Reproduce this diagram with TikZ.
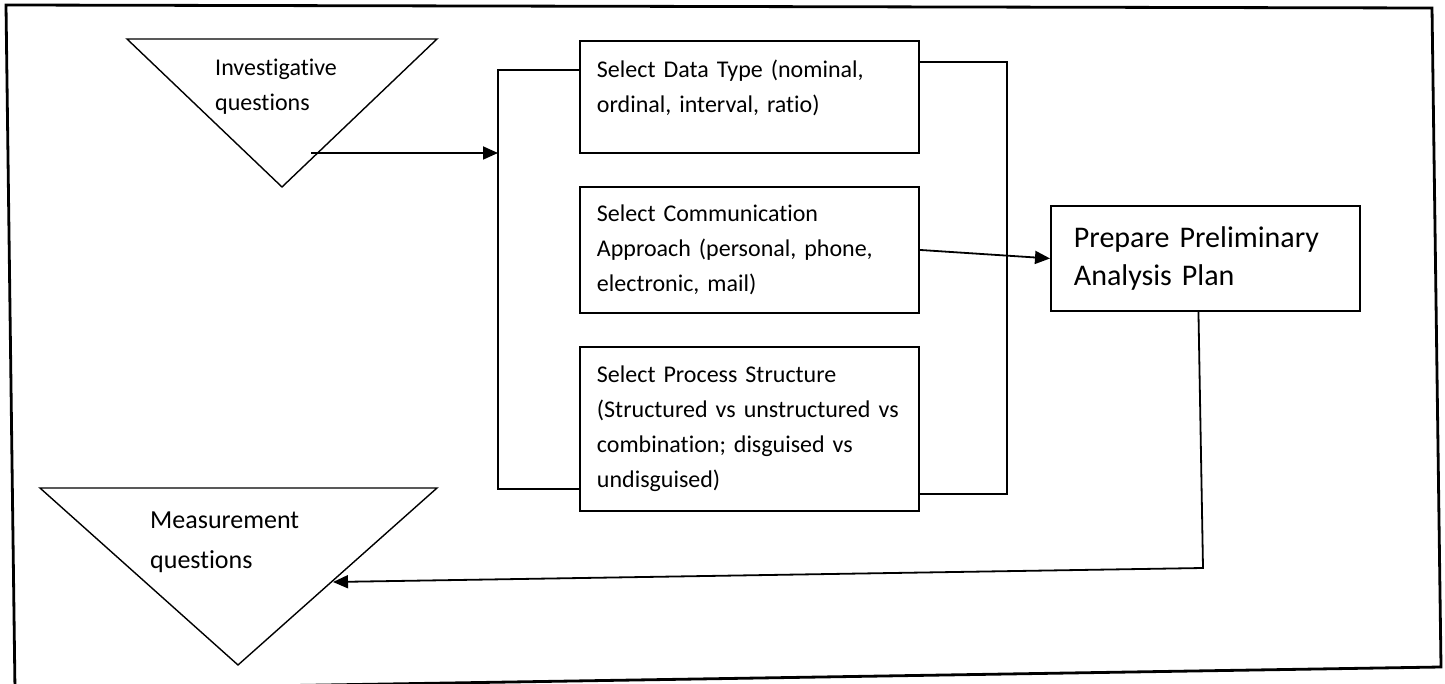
\documentclass[tikz,border=0pt]{standalone}
\usepackage{fontspec}
\setmainfont{Carlito}[Ligatures=NoCommon]
\usetikzlibrary{arrows.meta,positioning,calc}
\tikzset{
  font={\fontsize{24pt}{35pt}\selectfont}}

\begin{document}
\begin{tikzpicture}[x=1pt,y=-1pt,
    block_select/.style ={rectangle, draw=black, line width=1.9pt, fill=white,
      text width=305pt, align=left, inner xsep=17pt, inner ysep=0pt,
      minimum width=339pt, anchor=north west},
    block_plan/.style ={rectangle, draw=black, line width=1.9pt, fill=white,
      text width=263pt, align=left, inner xsep=23pt, inner ysep=0pt,
      minimum width=309pt, anchor=north west,
      font={\fontsize{30pt}{38pt}\selectfont}},
    tri_text/.style ={align=left, anchor=north west, inner sep=0pt},
    lines/.style ={draw=black, line width=1.8pt},
    paths2/.style={draw=black, line width=1.8pt,
      arrows={-Triangle[length=15pt, width=13pt]}}]
    \useasboundingbox (0,0) rectangle (1445,684);
    % outer frame (slightly tilted)
    \draw[line width=2.8pt] (6,5) -- (1432,8) -- (1441,667) -- (15,690) -- cycle;
    % question triangles
    \coordinate (inv-l) at (127,39);
    \coordinate (inv-r) at (437,39);
    \coordinate (inv-b) at (282,187);
    \draw[lines, line width=1.4pt] (inv-l) -- (inv-r) -- (inv-b) -- cycle;
    \node[tri_text] (inv) at (215,59) {Investigative\\questions};
    \coordinate (mea-l) at (40,488);
    \coordinate (mea-r) at (437,488);
    \coordinate (mea-b) at (238,665);
    \draw[lines, line width=1.4pt] (mea-l) -- (mea-r) -- (mea-b) -- cycle;
    \node[tri_text, font={\fontsize{26pt}{40pt}\selectfont}] (mea) at (150,512)
      {Measurement\\questions};
    % select boxes
    \node[block_select, minimum height=112pt] (b1) at (579,40)
      {Select Data Type (nominal,\\ ordinal, interval, ratio)\\[-14pt]\mbox{}};
    \node[block_select, minimum height=126pt] (b2) at (579,186)
      {Select Communication\\ Approach (personal, phone,\\ electronic, mail)};
    \node[block_select, minimum height=164pt] (b3) at (579,346)
      {Select Process Structure\\ (Structured vs unstructured vs\\ combination; disguised vs\\ undisguised)};
    % analysis plan
    \node[block_plan, minimum height=105pt] (plan) at (1050,205)
      {Prepare Preliminary\\ Analysis Plan};
    % connecting nodes with paths
    \coordinate (inv-out) at (311,153);
    \coordinate (brl-in) at (498,153);
    \coordinate (bend) at (1203,568);
    \coordinate (mea-in) at (333,582);
    \draw[lines] ($(b1.north west)+(0,30)$) -| (brl-in) |- ($(b3.south west)+(0,-23)$);
    \draw[lines] ($(b1.north east)+(0,22)$) -- ++(87,0) |- ($(b3.south east)+(0,-18)$);
    \draw[paths2] (inv-out) -- (brl-in);
    \draw[paths2] (b2.east) -- (plan.west);
    \draw[paths2] ([xshift=-7pt]plan.south) -- (bend) -- (mea-in);
  \end{tikzpicture}
\end{document}
